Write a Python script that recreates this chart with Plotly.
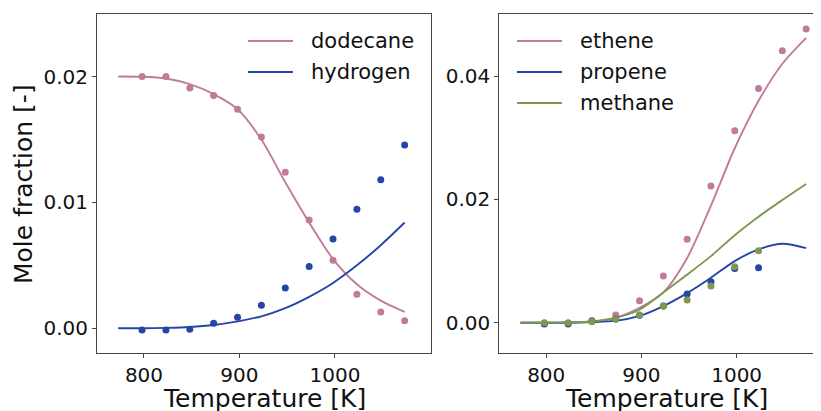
import plotly.graph_objects as go

# ---------------- data ----------------
# measured points (K)
T_pts = [798, 823, 848, 873, 898, 923, 948, 973, 998, 1023, 1048, 1073]
T_pts10 = T_pts[:10]
dodecane_pts = [0.0200, 0.0200, 0.0191, 0.0185, 0.0174, 0.0152, 0.0124, 0.0086, 0.0054, 0.0027, 0.0013, 0.0006]
hydrogen_pts = [-0.00014, -0.00014, -0.00008, 0.0004, 0.00087, 0.00183, 0.0032, 0.0049, 0.0071, 0.00946, 0.01179, 0.01457]
ethene_pts = [-0.0001, -0.0001, 0.0002, 0.00125, 0.00357, 0.00757, 0.01352, 0.02217, 0.03115, 0.0380, 0.0441, 0.04764]
propene_pts = [-0.0002, -0.0002, 0.0003, 0.0006, 0.0012, 0.0027, 0.00466, 0.00665, 0.0088, 0.0089]
methane_pts = [0.0, 0.0, 0.0002, 0.00055, 0.00125, 0.0027, 0.00368, 0.00595, 0.00908, 0.01168]

# model curves (K)
T_mod = [773, 798, 823, 848, 873, 898, 923, 948, 973, 998, 1023, 1048, 1073]
dodecane_mod = [0.0200, 0.01998, 0.01985, 0.0194, 0.0186, 0.0174, 0.0150, 0.0116, 0.0084, 0.0055, 0.0035, 0.0022, 0.0013]
hydrogen_mod = [0.0, 0.0, 0.00003, 0.0001, 0.00026, 0.00055, 0.00095, 0.0016, 0.0025, 0.0036, 0.0050, 0.0066, 0.0084]
ethene_mod = [0.0, 0.0, 0.00003, 0.0002, 0.0008, 0.0024, 0.0049, 0.0105, 0.0190, 0.0283, 0.0360, 0.0420, 0.0462]
propene_mod = [0.0, 0.0, 0.00002, 0.0001, 0.0003, 0.0011, 0.0027, 0.0048, 0.0073, 0.0100, 0.0119, 0.0128, 0.0121]
methane_mod = [0.0, 0.0, 0.00005, 0.0002, 0.0008, 0.0021, 0.0049, 0.0078, 0.0108, 0.0142, 0.0172, 0.0199, 0.0225]

x_ticks = [800, 900, 1000]
left_yticks = [0.00, 0.01, 0.02]
left_yticklabels = ["0.00", "0.01", "0.02"]
right_yticks = [0.00, 0.02, 0.04]
right_yticklabels = ["0.00", "0.02", "0.04"]

PINK = "#C17A9B"
BLUE = "#2446A8"
GREEN = "#7C9A4F"
FONT = "DejaVu Sans"
OFF = 8  # page body margin
W, H = 821 - OFF, 411 - OFF

fig = go.Figure()

def add_line(x, y, color, xa, ya):
    fig.add_trace(go.Scatter(x=x, y=y, mode="lines", line=dict(color=color, width=1.9, shape="spline", smoothing=0.8),
                             xaxis=xa, yaxis=ya, showlegend=False, hoverinfo="skip"))

def add_pts(x, y, color, xa, ya):
    fig.add_trace(go.Scatter(x=x, y=y, mode="markers", marker=dict(color=color, size=7, line=dict(width=0)),
                             xaxis=xa, yaxis=ya, showlegend=False))

add_line(T_mod, dodecane_mod, PINK, "x", "y")
add_line(T_mod, hydrogen_mod, BLUE, "x", "y")
add_pts(T_pts, dodecane_pts, PINK, "x", "y")
add_pts(T_pts, hydrogen_pts, BLUE, "x", "y")

add_line(T_mod, ethene_mod, PINK, "x2", "y2")
add_line(T_mod, propene_mod, BLUE, "x2", "y2")
add_line(T_mod, methane_mod, GREEN, "x2", "y2")
add_pts(T_pts, ethene_pts, PINK, "x2", "y2")
add_pts(T_pts10, propene_pts, BLUE, "x2", "y2")
add_pts(T_pts10, methane_pts, GREEN, "x2", "y2")

px = lambda p: (p - OFF) / W
py = lambda p: 1 - (p - OFF) / H

axis_common = dict(showgrid=False, zeroline=False, showline=True, linecolor="#444", linewidth=1,
                   ticks="outside", ticklen=4, tickwidth=1, tickcolor="#444",
                   tickfont=dict(family=FONT, size=20, color="#111"))

yd = [py(353.3), py(14)]
fig.update_layout(
    width=W, height=H, margin=dict(l=0, r=0, t=0, b=0),
    paper_bgcolor="white", plot_bgcolor="white",
    xaxis=dict(domain=[px(97), px(431)], range=[750.8, 1100.6], tickvals=x_ticks, mirror=True, anchor="y", **axis_common),
    yaxis=dict(domain=yd, range=[-0.00199, 0.02497], tickvals=left_yticks, ticktext=left_yticklabels, mirror=True, anchor="x", **axis_common),
    xaxis2=dict(domain=[px(499.3), 1.0], range=[750.7, 1088.6], tickvals=x_ticks, mirror=True, anchor="y2", **axis_common),
    yaxis2=dict(domain=yd, range=[-0.00496, 0.05007], tickvals=right_yticks, ticktext=right_yticklabels, mirror=False, anchor="x2", **axis_common),
    showlegend=False,
)

annotations = [
    dict(text="Temperature [K]", x=px(264), y=py(398), xref="paper", yref="paper", showarrow=False,
         xanchor="center", yanchor="middle", font=dict(family=FONT, size=25, color="#111")),
    dict(text="Temperature [K]", x=px(666), y=py(398), xref="paper", yref="paper", showarrow=False,
         xanchor="center", yanchor="middle", font=dict(family=FONT, size=25, color="#111")),
    dict(text="Mole fraction [-]", x=px(23), y=py(184), xref="paper", yref="paper", showarrow=False, textangle=-90,
         xanchor="center", yanchor="middle", font=dict(family=FONT, size=25, color="#111")),
]
shapes = []
legend_left = [("dodecane", PINK), ("hydrogen", BLUE)]
legend_right = [("ethene", PINK), ("propene", BLUE), ("methane", GREEN)]
for items, x0, x1, xt in [(legend_left, 248, 293, 309), (legend_right, 517, 562, 578)]:
    for i, (name, col) in enumerate(items):
        yy = 41 + 31 * i
        shapes.append(dict(type="line", xref="paper", yref="paper", x0=px(x0), x1=px(x1), y0=py(yy), y1=py(yy),
                           line=dict(color=col, width=2)))
        annotations.append(dict(text=name, x=px(xt), y=py(yy), xref="paper", yref="paper", showarrow=False,
                                xanchor="left", yanchor="middle", font=dict(family=FONT, size=21, color="#111")))
fig.update_layout(annotations=annotations, shapes=shapes)

fig.write_html("out.html")
